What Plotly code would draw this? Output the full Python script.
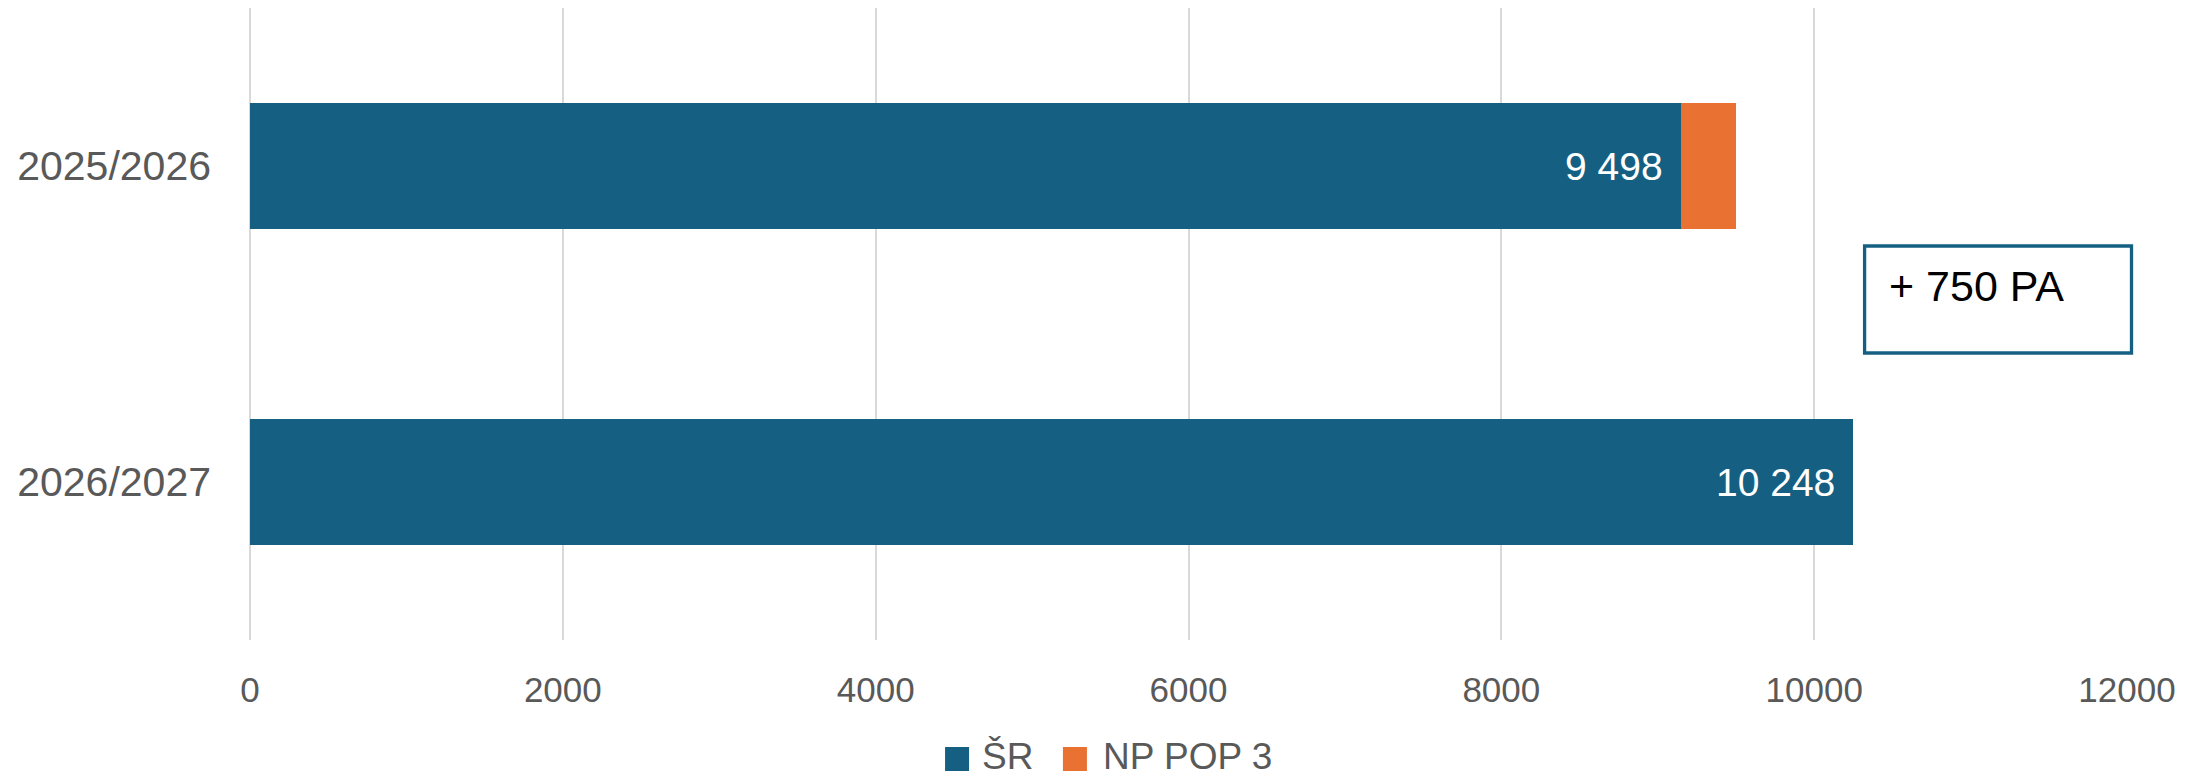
import plotly.graph_objects as go

categories = ["2025/2026", "2026/2027"]
sr_values = [9148, 10248]
np_pop3_values = [350, 0]
series_names = ["ŠR", "NP POP 3"]
x_ticks = [0, 2000, 4000, 6000, 8000, 10000, 12000]

BLUE = "#156082"
ORANGE = "#E97132"
GRAY = "#595959"
FONT = "Liberation Sans, Arial, sans-serif"

totals = [a + b for a, b in zip(sr_values, np_pop3_values)]


def fmt(v):
    return f"{v:,}".replace(",", " ")


fig = go.Figure()
fig.add_trace(go.Bar(y=categories, x=sr_values, orientation="h", name=series_names[0],
                     marker=dict(color=BLUE, line=dict(width=0)), showlegend=False,
                     hoverinfo="x+name"))
fig.add_trace(go.Bar(y=categories, x=np_pop3_values, orientation="h", name=series_names[1],
                     marker=dict(color=ORANGE, line=dict(width=0)), showlegend=False,
                     hoverinfo="x+name"))

annotations = []
# total labels inside the end of the blue bar
for cat, sr, tot in zip(categories, sr_values, totals):
    annotations.append(dict(x=sr, y=cat, xref="x", yref="y", text=fmt(tot),
                            showarrow=False, xanchor="right", yanchor="middle", xshift=-16,
                            font=dict(family=FONT, size=39, color="white")))

# difference box
diff = totals[1] - totals[0]
annotations.append(dict(x=0.8721, y=0.5601, xref="paper", yref="paper", text=f"+ {diff} PA",
                        showarrow=False, xanchor="left", yanchor="middle",
                        font=dict(family=FONT, size=43, color="black")))

shapes = [dict(type="rect", xref="paper", yref="paper", x0=0.8602, x1=1.0024, y0=0.4541, y1=0.6234,
               line=dict(color=BLUE, width=3.3), fillcolor="white", layer="above")]

# manual legend
legend_items = [(series_names[0], BLUE, 0.3703, 0.3889), (series_names[1], ORANGE, 0.4331, 0.4532)]
for name, col, sx, tx in legend_items:
    shapes.append(dict(type="rect", xref="paper", yref="paper", x0=sx, x1=sx + 0.01279,
                       y0=-0.2073, y1=-0.1693, line=dict(width=0), fillcolor=col))
    annotations.append(dict(x=tx, y=-0.1851, xref="paper", yref="paper", text=name,
                            showarrow=False, xanchor="left", yanchor="middle",
                            font=dict(family=FONT, size=37, color=GRAY)))

fig.update_layout(
    width=2195, height=770,
    margin=dict(l=242, r=76, t=0, b=138),
    paper_bgcolor="white", plot_bgcolor="white",
    barmode="stack", bargap=0.6,
    font=dict(family=FONT, color=GRAY),
    annotations=annotations, shapes=shapes,
    showlegend=False,
)
fig.update_xaxes(range=[0, 12000], tickvals=x_ticks, ticktext=[str(t) for t in x_ticks],
                 showgrid=True, gridcolor="#D9D9D9", gridwidth=1.5,
                 zeroline=True, zerolinecolor="#D9D9D9", zerolinewidth=1.5,
                 showline=False, ticks="", ticklabelstandoff=26,
                 tickfont=dict(family=FONT, size=35, color=GRAY))
fig.update_yaxes(autorange="reversed", showgrid=False, showline=False, ticks="",
                 ticklabelstandoff=38, tickfont=dict(family=FONT, size=41, color=GRAY))

fig.write_html("out.html")
